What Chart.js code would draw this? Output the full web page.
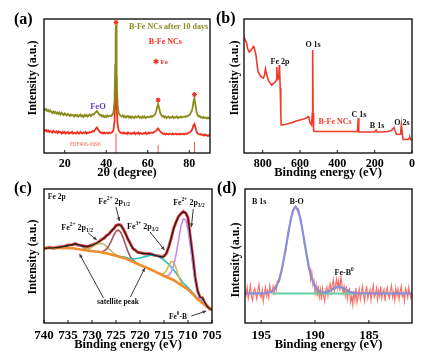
<!DOCTYPE html>
<html><head><meta charset="utf-8">
<script src="https://cdn.jsdelivr.net/npm/chart.js@4.4.0/dist/chart.umd.min.js"></script>
<style>
html,body{margin:0;padding:0;background:#fff;}
#wrap{position:relative;width:433px;height:357px;overflow:hidden;background:#fff;}
canvas{position:absolute;}
.pl{position:absolute;font:bold 16px "Liberation Serif","Times New Roman",serif;color:#000;line-height:18px;}
</style></head><body><div id="wrap">
<canvas id="ca" width="216" height="180" style="left:0;top:0;width:216px;height:180px"></canvas>
<canvas id="cb" width="217" height="180" style="left:216px;top:0;width:217px;height:180px"></canvas>
<canvas id="cc" width="230" height="177" style="left:0;top:180px;width:230px;height:177px"></canvas>
<canvas id="cd" width="217" height="177" style="left:216px;top:180px;width:217px;height:177px"></canvas>
<div class="pl" style="left:14px;top:10px">(a)</div>
<div class="pl" style="left:216px;top:9px">(b)</div>
<div class="pl" style="left:14px;top:179px">(c)</div>
<div class="pl" style="left:217px;top:179px">(d)</div>
</div>
<script>
const SERIF = '"Liberation Serif","Times New Roman",serif';

// ---------- (a) XRD ----------
const xrdAngle = [10,10.5,11,11.5,12,12.5,13,13.5,14,14.5,15,15.5,16,16.5,17,17.5,18,18.5,19,19.5,20,20.5,21,21.5,22,22.5,23,23.5,24,24.5,25,25.5,26,26.5,27,27.5,28,28.5,29,29.5,30,30.5,31,31.5,32,32.5,33,33.5,34,34.5,35,35.5,36,36.5,37,37.5,38,38.5,39,39.5,40,40.5,41,41.5,42,42.5,43,43.5,44,
44.3,44.5,44.7,44.9,45.1,
45.5,46,46.5,47,47.5,48,48.5,49,49.5,50,50.5,51,51.5,52,52.5,53,53.5,54,54.5,55,55.5,56,56.5,57,57.5,58,58.5,59,59.5,60,60.5,61,61.5,62,62.5,63,63.5,64,64.5,65,65.5,66,66.5,67,67.5,68,68.5,69,69.5,70,70.5,71,71.5,72,72.5,73,73.5,74,74.5,75,75.5,76,76.5,77,77.5,78,78.5,79,79.5,80,80.5,81,81.5,82,82.5,83,83.5,84,84.5,85,85.5,86,86.5,87,87.5,88,88.5,89,89.5,90];
const xrdAfter10d = [44.5,43,44,42,43,41.5,42.5,41,40,41.5,
40,41,39.5,40.5,39,40.5,38.5,40,39,38,
39.5,38.5,37.5,39,38,37,38.5,37.5,38,36.5,
38,37,38,36.5,37.5,38.5,36.5,37.5,36,38,
37,38,36.5,37.5,38.5,37,38,39,38.5,40,
41,42,40.5,39,37.5,38,36.5,37.5,36,37,
36,37.5,36.5,37,37.5,37,38.5,41,52,
88,118,128,108,74,
48,40,38,37,36.5,37.5,36,37,35.5,36.5,
37,35.5,36.5,35,36.5,36,35,36.5,35.5,36,
37,35.5,36,35,36.5,35.5,36.5,35,36,36.5,
35.5,36,37,36,37,37.5,38.5,41,45.5,49,
45,40,38,36.5,37,35.5,36.5,35,36,36.5,
35,36,35.5,36.5,35,36,35.5,36.5,35,36,
35.5,36.5,35.5,36,36.5,36,37,36.5,37.5,38,
39,41,44,51,55,48,41,38,36.5,37,
35.5,36,35,36,35,35.5,34.5,35.5,34.5,35];
const xrdFresh = [23.5,22,23,21.5,22.5,21,22,21.5,20.5,22,
21,20.5,21.5,20,21.5,20.5,21,19.5,21,20,
21,19.5,20.5,21,19.5,20.5,20,21,19.5,20.5,
20,19.5,21,20,19.5,21,20,19.5,20.5,20,
21,19.5,20.5,20,21,20.5,21,22,21.5,23,
24.5,25.5,24,22,21,20,20.5,19.5,20.5,19.5,
20,20.5,19.5,20.5,20,20.5,21,23,32,
56,72,77,66,46,
28,22.5,21,20,20.5,19.5,20.5,19.5,20,19,
20.5,19.5,20,19,20,19.5,20.5,19,20,19.5,
20.5,19,20,19.5,19,20,19.5,20.5,19,19.5,
20.5,19.5,20,20.5,20,21,21.5,22,23.5,24.5,
23,21.5,20.5,20,19,19.5,18.5,19.5,19,18.5,
19.5,19,18.5,19.5,18.5,19,19.5,18.5,19,18.5,
19.5,18.5,19,19.5,18.5,19,19.5,19,20,20.5,
21,22,24,27.5,29,25.5,21.5,19.5,19,18.5,
19,18,18.5,17.5,18.5,17.5,18,17,18,17.5];
const feRefAngle = [44.7, 65, 82.5];
const feRefHeight = [20, 8, 11];
const feStarAngle = [44.7, 65, 82.5];
const feStarHeight = [130.5, 53, 58.5];
const xrdTicks = [20, 40, 60, 80];

// ---------- (b) XPS survey ----------
const surveyBE = [900,893,886,880,872,865,858,850,846,840,835,830,824,818,810,802,796,790,785,780,775,768,760,752,745,738,731,727,724,721,716,713,711,709,706,703,701,695,680,660,640,620,600,580,565,557,552,546,538,534,532,530,527,520,500,450,400,350,300,292,288,286,284,260,230,200,195,191,187,160,130,110,100,96,90,84,75,64,60,57,55,52,48,40,30,20,14,11,8,4,0];
const surveyI = [116,113,110,104,101,102,104,106.5,106,101,97,88,81,79,76.5,75.5,75,78,84,80,76,72,70,68,69,70,71.5,73,86,74,74,78,88,82,65,40,28,28,28.5,29.5,30.5,32,33,34,35,36.5,35,30,28,40,103,40,22,21.5,21.5,21.5,21.5,21.5,21.5,21.5,35,35,21,21,21,21,22.5,23,21,21,21.5,22.5,25,25.5,22,19,18.5,19,22,28,28,20,13.5,13.5,13.5,13.5,15,15.5,14,13,13];
const surveyTicks = [800, 600, 400, 200, 0];

// ---------- (c) Fe 2p ----------
const fe2pBE = [740,739,738,737,736,735,734,733.5,733,732,731,730,729,728,727.5,727,726.5,726,725.5,725,724.5,724,723.5,723,722.5,722,721.5,721,720.5,720,719,718,717,716,715.5,715,714.5,714,713.5,713,712.5,712,711.5,711,710.5,710,709.5,709,708.5,708,707.5,707,706.5,706,705.5,705];
const fe2pRaw = [74.2,75.6,74.8,76,76.2,78,78.2,79.6,78,77.5,76,78,79.6,83.6,84.5,87.5,88.6,92,94,97.6,98.2,98,94,89.5,83.5,79.5,74.6,73,70.6,70.4,69,69.5,67.6,67,65.6,67,69.5,76.5,84.6,94.5,100.6,106.5,109,111.6,110,105.5,85.5,66.5,45.5,32.5,25.6,25.4,20,17,14,13.5];
const fe2pEnvelope = [74.7,75,75.2,75.5,76.5,77.5,78.5,79,78.5,77,76.5,77.5,80,83,85,87,89,91.5,94.5,97,98.5,97.5,94.5,89,84,79,75,72.5,71,70,69.5,69,68,66.5,66,66.5,70,76,85,94,101,106,109.5,111,110.5,105,85,66,45,32,26,25,20.5,16.5,14.5,13];
const bgBE = [740,737,734,731,728.5,727,724.5,722.7,720,718,716.5,715,713,711.5,710.3,709,708.2,707,706.1,705];
const bgI = [75,75,74.7,72.5,71,69.7,66.5,64,58,54,50.7,47,43,38,34.7,29,24.7,20,16.3,14];
const fe2p32BE = [715,714.5,714,713.5,713,712.5,712,711.5,711,710.5,710,709.5,709,708.5,708,707.5,707,706.5,706];
const fe2p32I = [47.3,47,47.8,50.9,57.6,68.1,82.2,95.9,104,103.4,93.8,76.7,58.8,43,32.1,25.4,21.2,18.3,16];
const fe3pBE = [716,715.5,715,714.5,714,713.5,713,712.5,712,711.5,711,710.5];
const fe3pI = [49.6,49,49.5,52.6,57.5,61.6,61.2,55,47.3,41.1,36.7,34.4];
const fe0BE = [708.5,708,707.5,707,706.5,706];
const fe0I = [26.4,25,25.6,25,20.4,16.4];
const satBE = [724,723,722,721,720,719,718,717,716,715,714,713,712,711,710,709,708];
const satI = [66.5,65.6,64.3,64.2,65,66.3,67.6,68.1,66.5,63.1,58.6,53.3,46.7,40,35.5,30.1,24.5];
const fe2p12BE = [729,728.5,728,727.5,727,726.5,726,725.5,725,724.5,724,723.5,723,722.5,722,721.5,721,720.5,720];
const fe2p12I = [71.7,71.2,71.3,72.1,73.9,77.1,81.9,87.3,91.6,93,90.6,84.9,78.1,71.3,66.2,62.9,60.7,59.2,58];
const sat12BE = [732,731.5,731,730.5,730,729.5,729,728.5,728,727.5,727,726.5,726,725.5,725,724.5,724];
const sat12I = [74,73.8,73.7,74.5,75.9,77.4,78.8,79.5,79.6,78.7,76.9,74.5,72,69.8,68.2,67.1,66.3];
const sat2BE = [736.5,736,735.5,735,734.5,734,733.5,733,732.5,732,731.5,731,730.5];
const sat2I = [75.5,76,76.5,77.2,78,78.5,78.6,78.1,77.2,76.1,74.8,73.5,72.8];
const fe2pTicks = [740,735,730,725,720,715,710,705];

// ---------- (d) B 1s ----------
const b1sRawBE = [196.5,196.4,196.3,196.2,196.1,196.0,195.9,195.8,195.7,195.6,195.5,195.4,195.3,195.2,195.1,195.0,194.9,194.8,194.7,194.6,194.5,194.4,194.3,194.2,194.1,194.0,
193.9,193.8,193.7,193.6,193.5,193.4,193.3,193.2,193.1,193.0,192.9,192.8,192.7,192.6,192.5,192.4,192.3,192.2,192.1,192.0,191.9,191.8,191.7,191.6,191.5,191.4,191.3,191.2,191.1,191.0,190.9,190.8,190.7,190.6,190.5,190.4,190.3,190.2,190.1,190.0,189.9,189.8,189.7,
189.6,189.5,189.4,189.3,189.2,189.1,189.0,188.9,188.8,188.7,188.6,188.5,188.4,188.3,188.2,188.1,188.0,187.9,187.8,187.7,187.6,187.5,187.4,187.3,187.2,187.1,187.0,186.9,186.8,186.7,186.6,186.5,186.4,186.3,186.2,186.1,186.0,185.9,185.8,185.7,185.6,185.5,185.4,185.3,185.2,185.1,185.0,184.9,184.8,184.7,184.6,184.5,184.4,184.3,184.2,184.1,184.0,183.9,183.8,183.7,183.6,183.5,183.4,183.3,183.2,183.1,183.0,182.9,182.8,182.7,182.6,182.5,182.4,182.3,182.2,182.1,182.0,181.9,181.8,181.7,181.6,181.5,181.4,181.3,181.2,181.1,181.0];
const b1sRaw = [32.7,27.7,35.7,24.7,30.7,37.7,26.7,22.7,31.7,34.7,28.7,23.7,33.7,38.7,27.7,25.7,32.7,21.7,29.7,35.8,26.9,32.1,25.4,37.7,32.2,29.7,
36.5,30.5,36.9,32.6,41.8,42.4,41.6,50.4,50.8,60.8,62.4,71.4,72.7,83.3,90.8,93.1,101.9,105.1,112.4,112.6,116.6,116.3,113.6,114.6,112.4,105.1,103.9,93.1,89.8,79.3,77.7,68.4,66.4,53.8,54.8,43.4,50.6,38.4,42.8,30.6,37.9,26.5,37.5,
25.8,33.3,22.9,34.6,27.5,21.6,31.8,36.0,27.3,34.8,39.4,31.0,37.6,43.3,31.9,37.4,43.8,35.1,42.2,32.1,45.8,38.4,29.9,36.3,27.6,37.0,24.4,32.8,34.3,20.9,26.6,18.3,32.1,23.0,34.9,20.8,26.7,33.7,23.7,30.7,36.7,27.7,21.7,32.7,35.7,24.7,29.7,33.7,22.7,31.7,37.7,25.7,28.7,34.7,23.7,32.7,26.7,36.7,24.7,30.7,33.7,21.7,31.7,35.7,27.7,24.7,32.7,37.7,25.7,30.7,22.7,34.7,27.7,33.7,23.7,31.7,36.7,26.7,29.7,21.7,34.7,31.7,25.7,35.7,28.7,24.7,32.7];
const b1sFitBE = [196.6,195.6,194.8,194.6,194.4,194.2,194.0,193.8,193.6,193.4,193.2,193.0,192.8,192.6,192.4,192.2,192.0,191.8,191.6,191.4,191.2,191.0,190.8,190.6,190.4,190.2,190.0,189.8,189.6,189.4,189.2,189.0,188.8,188.6,188.4,188.2,188.0,187.8,187.6,187.4,187.2,187.0,186.8,186.6,186.4,186.2,186.0,185.0,183.0,181.0];
const b1sFit = [29.7,29.7,29.7,29.9,30.1,30.7,31.7,33.5,36.6,41.4,48.4,57.8,69.4,82.3,95.1,106.1,113.6,116.3,113.6,106.1,95.1,82.3,69.4,57.8,48.4,41.4,36.6,33.5,31.8,30.9,30.5,30.8,31.3,32.4,33.6,34.9,35.8,36.2,35.8,34.9,33.6,32.4,31.3,30.6,30.1,29.9,29.8,29.7,29.7,29.7];
const feBBE = [189.8,189.6,189.4,189.2,189.0,188.8,188.6,188.4,188.2,188.0,187.8,187.6,187.4,187.2,187.0,186.8,186.6,186.4,186.2,186.0];
const feBI = [29.7,29.8,29.9,30.1,30.6,31.3,32.4,33.6,34.9,35.8,36.2,35.8,34.9,33.6,32.4,31.3,30.6,30.1,29.9,29.8];
const b1sBgBE = [193.9, 186.0];
const b1sBgI = [29.4, 29.4];
const b1sTicks = [195, 190, 185];

// ---------- helpers ----------
const pts = (xs, ys) => xs.map((x, i) => ({x: x, y: ys[i]}));
function sticks(xs, hs){
  const out = [];
  xs.forEach((x, i) => { out.push({x: x, y: 0}, {x: x, y: hs[i]}, {x: x, y: null}); });
  return out;
}
function line(data, color, w, order){
  return {data: data, borderColor: color, borderWidth: w, pointRadius: 0, fill: false, tension: 0, order: order, spanGaps: false};
}

function drawRich(ctx, x, y, segs, size, color, align, weight){
  weight = weight || 'bold';
  const parts = segs.map(s => {
    const fs = s[1] === 0 ? size : size * 0.68;
    ctx.font = weight + ' ' + fs + 'px ' + SERIF;
    return {t: s[0], k: s[1], fs: fs, w: ctx.measureText(s[0]).width};
  });
  const total = parts.reduce((a, p) => a + p.w, 0);
  let cx = align === 'left' ? x : (align === 'right' ? x - total : x - total / 2);
  ctx.fillStyle = color;
  ctx.textBaseline = 'middle';
  ctx.textAlign = 'left';
  parts.forEach(p => {
    ctx.font = weight + ' ' + p.fs + 'px ' + SERIF;
    const dy = p.k === 1 ? -size * 0.38 : (p.k === -1 ? size * 0.28 : 0);
    ctx.fillText(p.t, cx, y + dy);
    cx += p.w;
  });
}

function deco(p){
  return {
    id: 'deco',
    afterDraw(chart){
      const ctx = chart.ctx, a = chart.chartArea, sx = chart.scales.x, sy = chart.scales.y;
      ctx.save();
      ctx.strokeStyle = '#151515'; ctx.lineWidth = 1.4;
      ctx.strokeRect(a.left, a.top, a.right - a.left, a.bottom - a.top);
      ctx.lineWidth = 1;
      p.ticks.forEach(v => {
        const px = sx.getPixelForValue(v);
        ctx.beginPath(); ctx.moveTo(px, a.bottom); ctx.lineTo(px, a.bottom - 3); ctx.stroke();
      });
      ctx.save();
      ctx.translate(p.yt[0], p.yt[1]);
      ctx.rotate(-Math.PI / 2);
      ctx.fillStyle = '#000'; ctx.font = 'bold 12px ' + SERIF;
      ctx.textAlign = 'center'; ctx.textBaseline = 'middle';
      ctx.fillText('Intensity (a.u.)', 0, 0);
      ctx.restore();
      (p.arrows || []).forEach(r => {
        const x1 = sx.getPixelForValue(r[0]), y1 = sy.getPixelForValue(r[1]);
        const x2 = sx.getPixelForValue(r[2]), y2 = sy.getPixelForValue(r[3]);
        ctx.strokeStyle = '#3a3a3a'; ctx.fillStyle = '#3a3a3a'; ctx.lineWidth = 1;
        ctx.beginPath(); ctx.moveTo(x1, y1); ctx.lineTo(x2, y2); ctx.stroke();
        const ang = Math.atan2(y2 - y1, x2 - x1), L = 4;
        ctx.beginPath(); ctx.moveTo(x2, y2);
        ctx.lineTo(x2 - L * Math.cos(ang - 0.45), y2 - L * Math.sin(ang - 0.45));
        ctx.lineTo(x2 - L * Math.cos(ang + 0.45), y2 - L * Math.sin(ang + 0.45));
        ctx.closePath(); ctx.fill();
      });
      (p.texts || []).forEach(t => {
        drawRich(ctx, sx.getPixelForValue(t.x), sy.getPixelForValue(t.y), t.segs, t.size || 8, t.color || '#111', t.align || 'center', t.weight);
      });
      ctx.restore();
    }
  };
}

function mk(id, p){
  return new Chart(document.getElementById(id), {
    type: 'line',
    data: {datasets: p.datasets},
    options: {
      responsive: false, animation: false, devicePixelRatio: 1, events: [],
      layout: {padding: p.pad},
      plugins: {legend: {display: false}, tooltip: {enabled: false}},
      elements: {point: {radius: 0}, line: {tension: 0}},
      scales: {
        x: {type: 'linear', min: p.xmin, max: p.xmax, reverse: !!p.rev,
          afterBuildTicks: s => { s.ticks = p.ticks.map(v => ({value: v})); },
          afterFit: s => { s.height = p.xh; },
          grid: {display: false}, border: {display: false},
          ticks: {color: '#000', font: {family: SERIF, size: p.tickSize || 12, weight: 'bold'}, padding: p.tickPad, maxRotation: 0, minRotation: 0, autoSkip: false},
          title: {display: true, text: p.xtitle, color: '#000', font: {family: SERIF, size: 12.5, weight: 'bold'}, padding: {top: 0, bottom: p.titlePad}}
        },
        y: {type: 'linear', display: false, min: 0, max: p.ymax}
      }
    },
    plugins: [deco(p)]
  });
}

// ---------- panel (a) ----------
mk('ca', {
  xmin: 10, xmax: 90, ticks: xrdTicks, xtitle: '2θ (degree)', ymax: 134,
  pad: {left: 44, right: 6, top: 19, bottom: 0}, xh: 27, tickPad: -4, titlePad: 0, yt: [33, 78],
  datasets: [
    {data: pts(feStarAngle, feStarHeight), showLine: false, pointStyle: 'star', pointRadius: 2.5, pointBorderColor: '#f2301e', pointBorderWidth: 1.1, order: 0},
    line(pts(xrdAngle, xrdAfter10d), '#8a8c1c', 1.8, 1),
    line(pts(xrdAngle, xrdFresh), '#f4301f', 1.8, 2),
    line(sticks(feRefAngle, feRefHeight), '#f06050', 1, 3)
  ],
  texts: [
    {x: 70, y: 126, segs: [['B-Fe NCs after 10 days', 0]], color: '#8a8c1c', size: 8},
    {x: 68.5, y: 111, segs: [['B-Fe NCs', 0]], color: '#f4301f', size: 8},
    {x: 66, y: 91, segs: [['✱ Fe', 0]], color: '#f4301f', size: 7},
    {x: 36, y: 46, segs: [['FeO', 0]], color: '#6a3fb5', size: 8.5},
    {x: 29.8, y: 8, segs: [['PDF#06-0696', 0]], color: '#f06a5a', size: 5.5, weight: 'normal'}
  ]
});

// ---------- panel (b) ----------
mk('cb', {
  xmin: 0, xmax: 900, rev: true, ticks: surveyTicks, xtitle: 'Binding energy (eV)', ymax: 134,
  pad: {left: 28, right: 21, top: 19, bottom: 0}, xh: 27, tickPad: -4, titlePad: 0, yt: [19, 78],
  datasets: [ line(pts(surveyBE, surveyI), '#f23a28', 1.6, 0) ],
  texts: [
    {x: 707, y: 91, segs: [['Fe 2p', 0]], size: 8},
    {x: 530, y: 108, segs: [['O 1s', 0]], size: 8},
    {x: 284, y: 38, segs: [['C 1s', 0]], size: 8},
    {x: 412, y: 31, segs: [['B-Fe NCs', 0]], color: '#f23a28', size: 8},
    {x: 187, y: 27, segs: [['B 1s', 0]], size: 8},
    {x: 54, y: 30, segs: [['O 2s', 0]], size: 8}
  ]
});

// ---------- panel (c) ----------
mk('cc', {
  xmin: 705, xmax: 740, rev: true, ticks: fe2pTicks, xtitle: 'Binding energy (eV)', ymax: 134,
  pad: {left: 44, right: 18, top: 9, bottom: 0}, xh: 34, tickPad: -3, titlePad: 5, yt: [33, 77], tickSize: 13,
  datasets: [
    line(pts(fe2pBE, fe2pEnvelope), '#2a1a1a', 1.3, 0),
    line(pts(bgBE, bgI), '#f28a2e', 2.6, 1),
    line(pts(fe2p32BE, fe2p32I), '#c88ae2', 1.6, 2),
    line(pts(fe3pBE, fe3pI), '#e2b23c', 1.5, 3),
    line(pts(fe0BE, fe0I), '#3fa8dc', 1.3, 4),
    line(pts(satBE, satI), '#1fc3c6', 1.6, 5),
    line(pts(fe2p12BE, fe2p12I), '#a4555c', 1.6, 6),
    line(pts(sat12BE, sat12I), '#b8b85c', 1.5, 7),
    line(pts(sat2BE, sat2I), '#8d7a70', 1.3, 8),
    line(pts(fe2pBE, fe2pRaw), '#f04848', 3, 9)
  ],
  texts: [
    {x: 739.2, y: 126, segs: [['Fe 2p', 0]], size: 7.5, align: 'left'},
    {x: 725.4, y: 121, segs: [['Fe', 0], ['2+', 1], [' 2p', 0], ['1/2', -1]], size: 8},
    {x: 733.1, y: 95, segs: [['Fe', 0], ['2+', 1], [' 2p', 0], ['1/2', -1]], size: 8},
    {x: 719.4, y: 96, segs: [['Fe', 0], ['3+', 1], [' 2p', 0], ['3/2', -1]], size: 8},
    {x: 709.8, y: 120, segs: [['Fe', 0], ['2+', 1], [' 2p', 0], ['3/2', -1]], size: 8},
    {x: 724.6, y: 21, segs: [['satellite peak', 0]], size: 7.5},
    {x: 712.1, y: 6, segs: [['Fe', 0], ['0', 1], ['-B', 0]], size: 7.5}
  ],
  arrows: [
    [725.0, 116, 724.3, 102],
    [730.8, 90, 729.0, 83],
    [717.9, 91, 714.9, 73],
    [708.9, 114, 709.3, 96],
    [727.6, 25, 732.6, 69],
    [722.0, 26, 719.0, 55],
    [709.3, 7, 706.2, 12]
  ]
});

// ---------- panel (d) ----------
mk('cd', {
  xmin: 181, xmax: 196.5, rev: true, ticks: b1sTicks, xtitle: 'Binding energy (eV)', ymax: 134,
  pad: {left: 29, right: 21, top: 9, bottom: 0}, xh: 34, tickPad: -3, titlePad: 5, yt: [20, 80], tickSize: 13,
  datasets: [
    line(pts(b1sFitBE, b1sFit), '#8b8fda', 2.2, 0),
    line(pts(feBBE, feBI), '#6dc06c', 1.8, 1),
    line(pts(b1sBgBE, b1sBgI), '#62cfa8', 2, 2),
    line(pts(b1sRawBE, b1sRaw), '#f4726a', 1.2, 3)
  ],
  texts: [
    {x: 195.85, y: 121, segs: [['B 1s', 0]], size: 8, align: 'left'},
    {x: 191.7, y: 121, segs: [['B-O', 0]], size: 8},
    {x: 187.3, y: 50, segs: [['Fe-B', 0], ['0', 1]], size: 8}
  ]
});
</script>
</body></html>
